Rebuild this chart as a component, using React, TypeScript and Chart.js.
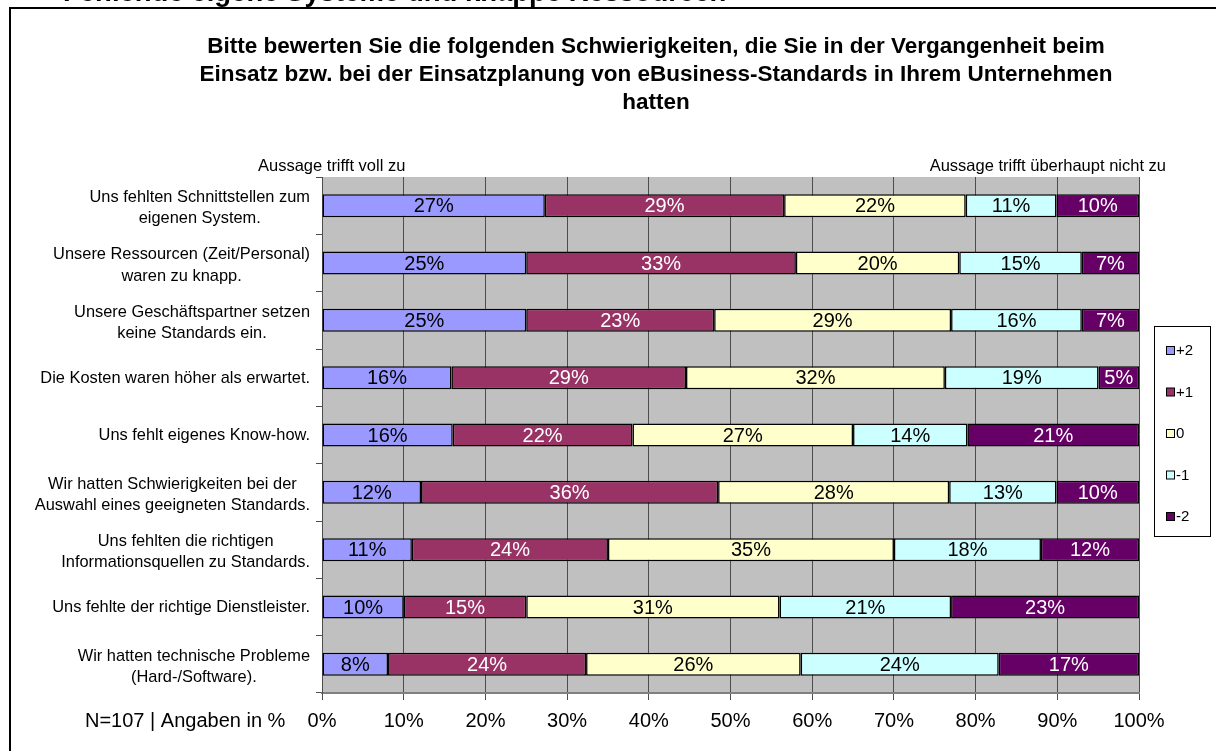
import React, { useEffect, useRef } from "react";
import { Chart, registerables } from "chart.js";

Chart.register(...registerables);

const FONT = "'Liberation Sans', Arial, Helvetica, sans-serif";

const pageHeading = "Fehlende eigene Systeme und knappe Ressourcen";
const titleLines = [
  "Bitte bewerten Sie die folgenden Schwierigkeiten, die Sie in der Vergangenheit beim",
  "Einsatz bzw. bei der Einsatzplanung von eBusiness-Standards in Ihrem Unternehmen",
  "hatten",
];
const leftNote = "Aussage trifft voll zu";
const rightNote = "Aussage trifft überhaupt nicht zu";
const footNote = "N=107 | Angaben in %";

const categories: string[][] = [
  ["Uns fehlten Schnittstellen zum", "eigenen System."],
  ["Unsere Ressourcen (Zeit/Personal)", "waren zu knapp."],
  ["Unsere Geschäftspartner setzen", "keine Standards ein."],
  ["Die Kosten waren höher als erwartet."],
  ["Uns fehlt eigenes Know-how."],
  ["Wir hatten Schwierigkeiten bei der", "Auswahl eines geeigneten Standards."],
  ["Uns fehlten die richtigen", "Informationsquellen zu Standards."],
  ["Uns fehlte der richtige Dienstleister."],
  ["Wir hatten technische Probleme", "(Hard-/Software)."],
];

const seriesNames = ["+2", "+1", "0", "-1", "-2"];
const seriesColors = ["#9999FF", "#993366", "#FFFFCC", "#CCFFFF", "#660066"];
const labelColors = ["#000000", "#FFFFFF", "#000000", "#000000", "#FFFFFF"];

const plus2 = [27, 25, 25, 16, 16, 12, 11, 10, 8];
const plus1 = [29, 33, 23, 29, 22, 36, 24, 15, 24];
const zero = [22, 20, 29, 32, 27, 28, 35, 31, 26];
const minus1 = [11, 15, 16, 19, 14, 13, 18, 21, 24];
const minus2 = [10, 7, 7, 5, 21, 10, 12, 23, 17];

const xTickValues = [0, 10, 20, 30, 40, 50, 60, 70, 80, 90, 100];

const series = [plus2, plus1, zero, minus1, minus2];

const decorPlugin = {
  id: "decor",
  beforeDraw(chart: any) {
    const ctx = chart.ctx as CanvasRenderingContext2D;
    const a = chart.chartArea;
    ctx.save();
    // cut-off page heading
    ctx.fillStyle = "#000";
    ctx.font = `bold 27.5px ${FONT}`;
    ctx.textAlign = "left";
    ctx.textBaseline = "alphabetic";
    ctx.fillText(pageHeading, 63, 1);
    // outer frame
    ctx.lineWidth = 2;
    ctx.strokeStyle = "#000";
    ctx.strokeRect(10, 8, 1400, 1000);
    // plot background
    ctx.fillStyle = "#C0C0C0";
    ctx.fillRect(a.left, a.top, a.right - a.left, a.bottom - a.top);
    ctx.restore();
  },
  afterDatasetsDraw(chart: any) {
    const ctx = chart.ctx as CanvasRenderingContext2D;
    ctx.save();
    ctx.font = `20px ${FONT}`;
    ctx.textAlign = "center";
    ctx.textBaseline = "middle";
    chart.data.datasets.forEach((ds: any, di: number) => {
      const meta = chart.getDatasetMeta(di);
      meta.data.forEach((el: any, i: number) => {
        const raw = series[di][i];
        ctx.fillStyle = labelColors[di];
        ctx.fillText(raw + "%", (el.x + el.base) / 2, el.y + 1);
      });
    });
    ctx.restore();
  },
  afterDraw(chart: any) {
    const ctx = chart.ctx as CanvasRenderingContext2D;
    ctx.save();
    ctx.fillStyle = "#000";
    // title
    ctx.font = `bold 22.5px ${FONT}`;
    ctx.textAlign = "center";
    ctx.textBaseline = "middle";
    titleLines.forEach((t, i) => ctx.fillText(t, 656, 47 + i * 28));
    // notes above plot
    ctx.font = `16.5px ${FONT}`;
    ctx.textAlign = "left";
    ctx.fillText(leftNote, 258, 166);
    ctx.textAlign = "right";
    ctx.fillText(rightNote, 1166, 166);
    // foot note
    ctx.font = `20px ${FONT}`;
    ctx.textAlign = "left";
    ctx.fillText(footNote, 85, 721);
    // category labels
    const yScale = chart.scales.y;
    ctx.font = `16.4px ${FONT}`;
    ctx.textAlign = "center";
    categories.forEach((lines, i) => {
      const cy = yScale.getPixelForValue(i);
      const maxW = Math.max(...lines.map((l) => ctx.measureText(l).width));
      const cx = 310 - maxW / 2;
      const lh = 21.5;
      const startY = cy - ((lines.length - 1) * lh) / 2 + (lines.length > 1 ? 2.5 : 0.5);
      lines.forEach((l, j) => ctx.fillText(l, cx, startY + j * lh));
    });
    // legend
    ctx.lineWidth = 1;
    ctx.strokeStyle = "#000";
    ctx.fillStyle = "#fff";
    ctx.fillRect(1154.5, 326.5, 56, 210);
    ctx.strokeRect(1154.5, 326.5, 56, 210);
    ctx.font = `15px ${FONT}`;
    ctx.textAlign = "left";
    seriesNames.forEach((n, i) => {
      const y = 351 + i * 41.5;
      ctx.fillStyle = seriesColors[i];
      ctx.fillRect(1166.5, y - 4.5, 8, 8);
      ctx.strokeRect(1166.5, y - 4.5, 8, 8);
      ctx.fillStyle = "#000";
      ctx.fillText(n, 1176, y);
    });
    ctx.restore();
  },
};

export default function App() {
  const ref = useRef<HTMLCanvasElement>(null);
  useEffect(() => {
    if (!ref.current) return;
    const datasets = series.map((vals, di) => ({
      label: seriesNames[di],
      data: vals.map((v, i) => {
        const total = series.reduce((s, arr) => s + arr[i], 0);
        return (v / total) * 100;
      }),
      backgroundColor: seriesColors[di],
      borderColor: "#000000",
      borderWidth: 1.5,
      borderSkipped: false,
      barPercentage: 0.4,
      categoryPercentage: 1,
    }));
    const chart = new Chart(ref.current, {
      type: "bar",
      data: {
        labels: categories.map((c) => c.join(" ")),
        datasets: datasets as any,
      },
      options: {
        indexAxis: "y",
        responsive: false,
        animation: false,
        layout: { padding: { top: 177, right: 77, left: 0, bottom: 0 } },
        plugins: {
          legend: { display: false },
          tooltip: { enabled: false },
          title: { display: false },
        },
        scales: {
          x: {
            stacked: true,
            min: 0,
            max: 100,
            afterBuildTicks: (scale: any) => {
              scale.ticks = xTickValues.map((v) => ({ value: v }));
            },
            afterFit: (scale: any) => {
              scale.height = 58;
            },
            ticks: {
              callback: (v: any) => v + "%",
              font: { family: FONT, size: 20 },
              color: "#000",
              padding: 9,
              maxRotation: 0,
              autoSkip: false,
            },
            grid: {
              color: "#4d4d4d",
              lineWidth: 1,
              tickLength: 7,
              drawTicks: true,
            },
            border: { color: "#808080", width: 2 },
          },
          y: {
            stacked: true,
            afterFit: (scale: any) => {
              scale.width = 322;
            },
            ticks: { display: false },
            grid: {
              drawOnChartArea: false,
              drawTicks: true,
              tickLength: 6,
              color: "#4d4d4d",
              offset: true,
            },
            border: { color: "#4d4d4d", width: 1 },
          },
        },
      },
      plugins: [decorPlugin],
    });
    return () => chart.destroy();
  }, []);
  return (
    <div style={{ position: "absolute", left: 0, top: 0 }}>
      <canvas ref={ref} width={1216} height={751} style={{ display: "block" }} />
    </div>
  );
}
